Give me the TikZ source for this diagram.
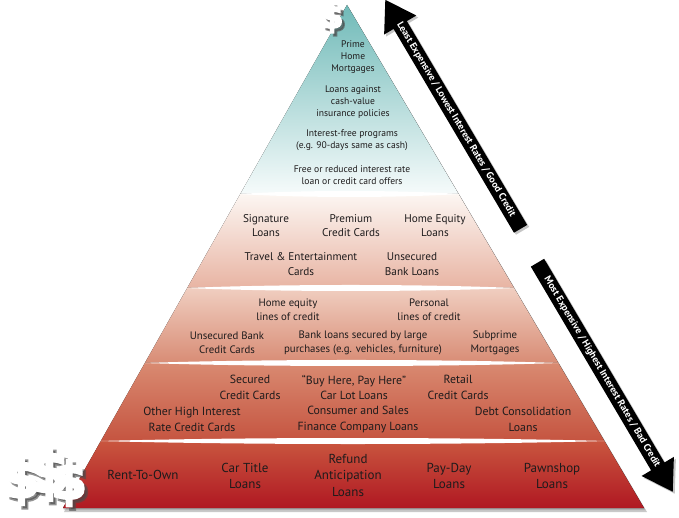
\documentclass[tikz,border=0pt]{standalone}
\usepackage{fontspec}
\setmainfont{PT Sans}
\newfontfamily\dollarfont{DejaVu Sans}
\usetikzlibrary{calc,shapes.arrows,shadows}
\definecolor{inkgray}{RGB}{30,27,28}
\definecolor{bandAtop}{RGB}{112,186,184}
\definecolor{bandAbot}{RGB}{246,251,251}
\definecolor{bandBtop}{RGB}{252,246,242}
\definecolor{bandBbot}{RGB}{232,180,163}
\definecolor{bandCtop}{RGB}{240,206,192}
\definecolor{bandCbot}{RGB}{216,140,117}
\definecolor{bandDtop}{RGB}{217,138,113}
\definecolor{bandDbot}{RGB}{197,84,64}
\definecolor{bandEtop}{RGB}{201,86,63}
\definecolor{bandEbot}{RGB}{176,24,34}
\tikzset{
    tier/.style={align=center, text=inkgray, inner sep=1pt},
    tierA/.style={tier, font=\fontsize{9.6}{12}\selectfont},
    tierB/.style={tier, font=\fontsize{11.2}{14.5}\selectfont},
    tierC/.style={tier, font=\fontsize{10.8}{14}\selectfont},
    tierD/.style={tier, font=\fontsize{11.8}{15.5}\selectfont},
    tierE/.style={tier, font=\fontsize{13}{16.5}\selectfont},
    costarrow/.style={single arrow, fill=black, text=white,
        font=\bfseries\fontsize{9.8}{10}\selectfont,
        minimum height=266pt, single arrow head extend=11pt,
        single arrow tip angle=65, inner xsep=2pt, inner ysep=3pt,
        rotate=-59.44,
        drop shadow={shadow xshift=2pt, shadow yshift=-2pt, opacity=.45}},
    dollar/.style={text=white, inner sep=0pt, font=\dollarfont\bfseries},
    dollarshade/.style={text=black!75, opacity=.6, inner sep=0pt, font=\dollarfont\bfseries}
}
\newcommand\pyrband[4]{%
    \fill[top color=#3, bottom color=#4] ($(apex)!#1!(bl)$) -- ($(apex)!#1!(br)$)
        -- ($(apex)!#2!(br)$) -- ($(apex)!#2!(bl)$) -- cycle;}
\newcommand\pyrgap[1]{%
    \path ($(apex)!#1!(bl)+(-2,0)$) coordinate (gl) ($(apex)!#1!(br)+(2,0)$) coordinate (gr);
    \fill[white] (gl) .. controls ($(gl)!.3!(gr)+(0,-4)$) and ($(gl)!.7!(gr)+(0,-4)$) .. (gr)
        .. controls ($(gl)!.7!(gr)+(0,4)$) and ($(gl)!.3!(gr)+(0,4)$) .. (gl) -- cycle;}
\newcommand\fatglyph[3]{\special{pdf:literal direct #1 RG 2 Tr #2 w}#3\special{pdf:literal direct 0 Tr}}
\newcommand\onedollar[1]{\fatglyph{#1}{2}{\fontsize{32}{32}\selectfont\$}}
\newcommand\threedollars[1]{\fatglyph{#1}{3}{%
    \rlap{\fontsize{52}{52}\selectfont\$}\kern48.6pt
    \rlap{\lower1.4pt\hbox{\fontsize{50}{50}\selectfont\$}}\kern-22.8pt
    \raise5.2pt\hbox{\fontsize{58}{58}\selectfont\$}}}

\begin{document}
\begin{tikzpicture}[x=1pt, y=-1pt]
    \useasboundingbox (0,0) rectangle (679,518);
    \fill[white] (0,0) rectangle (679,518);
    \coordinate (apex) at (347,5);
    \coordinate (bl) at (63,508);
    \coordinate (br) at (644,508);
    \fill[black!60, opacity=.35] ([shift={(2,3)}]apex) -- ([shift={(3,4)}]br) -- ([shift={(1,4)}]bl) -- cycle;
    \fill[black!60, opacity=.25] ([shift={(1,1.5)}]apex) -- ([shift={(1.5,2)}]br) -- ([shift={(0.5,2)}]bl) -- cycle;
    \pyrband{0}{0.3757}{bandAtop}{bandAbot}
    \pyrband{0.3757}{0.5626}{bandBtop}{bandBbot}
    \pyrband{0.5626}{0.7117}{bandCtop}{bandCbot}
    \pyrband{0.7117}{0.8668}{bandDtop}{bandDbot}
    \pyrband{0.8668}{1}{bandEtop}{bandEbot}
    \pyrgap{0.3757}
    \pyrgap{0.5626}
    \pyrgap{0.7117}
    \pyrgap{0.8668}

    \node[tierA] (prime) at (353,57) {Prime\\Home\\Mortgages};
    \node[tierA] (cashvalue) at (353,102) {Loans against\\cash-value\\insurance policies};
    \node[tierA] (intfree) at (352,140) {Interest-free programs\\(e.g. 90-days same as cash)};
    \node[tierA] (freeoffer) at (352,175.5) {Free or reduced interest rate\\loan or credit card offers};

    \node[tierB] (signature) at (266,225.5) {Signature\\Loans};
    \node[tierB] (premium) at (351,225.5) {Premium\\Credit Cards};
    \node[tierB] (homeequity) at (435,225.5) {Home Equity\\Loans};
    \node[tierB] (travel) at (301,264) {Travel \& Entertainment\\Cards};
    \node[tierB] (unsecbank) at (412,264) {Unsecured\\Bank Loans};

    \node[tierC] (helc) at (288,309.5) {Home equity\\lines of credit};
    \node[tierC] (personal) at (429,309.5) {Personal\\lines of credit};
    \node[tierC] (unseccards) at (227,342.5) {Unsecured Bank\\Credit Cards};
    \node[tierC] (bankloans) at (363,342.5) {Bank loans secured by large\\purchases (e.g. vehicles, furniture)};
    \node[tierC] (subprime) at (495,342.5) {Subprime\\Mortgages};

    \node[tierD] (secured) at (250,387.5) {Secured\\Credit Cards};
    \node[tierD] (buyhere) at (354,387.5) {“Buy Here, Pay Here”\\Car Lot Loans};
    \node[tierD] (retail) at (458,387.5) {Retail\\Credit Cards};
    \node[tierD] (otherhigh) at (192,419.5) {Other High Interest\\Rate Credit Cards};
    \node[tierD] (consumer) at (358,419.5) {Consumer and Sales\\Finance Company Loans};
    \node[tierD] (debtcons) at (523,419.5) {Debt Consolidation\\Loans};

    \node[tierE] (rent) at (143,475) {Rent-To-Own};
    \node[tierE] (cartitle) at (245,476) {Car Title\\Loans};
    \node[tierE] (refund) at (348,475) {Refund\\Anticipation\\Loans};
    \node[tierE] (payday) at (449,476) {Pay-Day\\Loans};
    \node[tierE] (pawnshop) at (552,476) {Pawnshop\\Loans};

    \node[costarrow, shape border rotate=180] (cheap) at (456,119.5)
        {Least Expensive / Lowest Interest Rates / Good Credit};
    \node[costarrow] (costly) at (602,372)
        {Most Expensive / Highest Interest Rates / Bad Credit};

    \node[dollarshade] (topshade) at (335,21) {\onedollar{.3 .3 .3}};
    \node[dollar] (topdollar) at (332,18) {\onedollar{1 1 1}};
    \node[dollarshade, anchor=base west] (trioshade) at (6.5,500.5) {\threedollars{.3 .3 .3}};
    \node[dollar, anchor=base west] (trio) at (3,497) {\threedollars{1 1 1}};
\end{tikzpicture}
\end{document}
